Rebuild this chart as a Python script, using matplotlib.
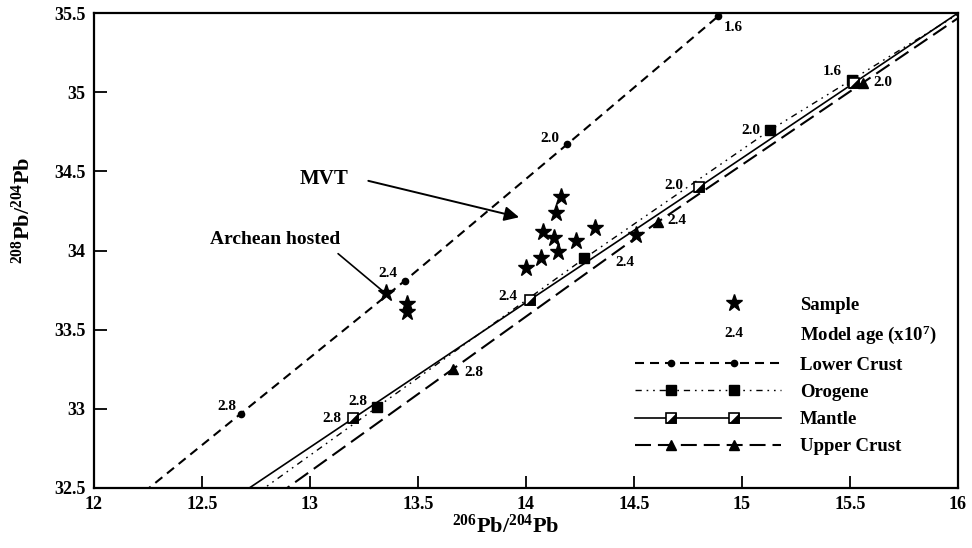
import numpy as np
import matplotlib
matplotlib.use("Agg")
import matplotlib.pyplot as plt
from matplotlib.lines import Line2D
from matplotlib.text import Text
from matplotlib.legend_handler import HandlerLine2DCompound, HandlerTuple
from matplotlib.ticker import FuncFormatter, MultipleLocator

# ---------------- data ----------------
sample_x = [14.16, 14.14, 14.08, 14.13, 14.23, 14.32, 14.15, 14.07, 14.00, 14.51, 13.35, 13.45, 13.45]
sample_y = [34.34, 34.24, 34.12, 34.08, 34.06, 34.14, 33.99, 33.95, 33.89, 34.10, 33.73, 33.66, 33.61]

ages4 = [2.8, 2.4, 2.0, 1.6]
ages3 = [2.8, 2.4, 2.0]

lower_x = [12.68, 13.44, 14.19, 14.89]
lower_y = [32.97, 33.81, 34.67, 35.48]

orogene_x = [13.31, 14.27, 15.13, 15.51]
orogene_y = [33.01, 33.95, 34.76, 35.08]

mantle_x = [13.20, 14.02, 14.80, 15.52]
mantle_y = [32.94, 33.69, 34.40, 35.06]

upper_x = [13.66, 14.61, 15.56]
upper_y = [33.25, 34.18, 35.06]

xticks = [12, 12.5, 13, 13.5, 14, 14.5, 15, 15.5, 16]
yticks = [32.5, 33, 33.5, 34, 34.5, 35, 35.5]

# ---------------- style ----------------
plt.rcParams['font.family'] = ['Liberation Serif', 'DejaVu Serif']
plt.rcParams['font.weight'] = 'bold'
plt.rcParams['mathtext.fontset'] = 'custom'
plt.rcParams['mathtext.rm'] = 'Liberation Serif:bold'
plt.rcParams['mathtext.bf'] = 'Liberation Serif:bold'
plt.rcParams['mathtext.it'] = 'Liberation Serif:bold'
plt.rcParams['mathtext.default'] = 'bf'
plt.rcParams['lines.scale_dashes'] = False

fig = plt.figure(figsize=(9.72, 5.48), dpi=100)
ax = fig.add_axes([94/972, 60/548, 864/972, 475/548])
ax.set_xlim(12, 16)
ax.set_ylim(32.5, 35.5)

ls_lower = (0, (6.5, 4.3))
ls_orog = (0, (4.5, 3.5, 1.2, 3.5, 1.2, 3.5))
ls_upper = (0, (11.5, 5.0))

tri_verts = [(-0.5, -0.5), (0.5, -0.5), (0.5, 0.5), (-0.5, -0.5)]


def extended(xs, ys):
    xs = np.asarray(xs, float)
    ys = np.asarray(ys, float)
    s0 = (ys[1] - ys[0]) / (xs[1] - xs[0])
    s1 = (ys[-1] - ys[-2]) / (xs[-1] - xs[-2])
    ex = np.concatenate([[xs[0] - 2], xs, [xs[-1] + 2]])
    ey = np.concatenate([[ys[0] - 2 * s0], ys, [ys[-1] + 2 * s1]])
    return ex, ey


# lines
for xs, ys, ls, lw in [(lower_x, lower_y, ls_lower, 1.5),
                       (orogene_x, orogene_y, ls_orog, 1.0),
                       (mantle_x, mantle_y, '-', 1.2),
                       (upper_x, upper_y, ls_upper, 1.5)]:
    ex, ey = extended(xs, ys)
    ax.plot(ex, ey, color='black', linestyle=ls, linewidth=lw, zorder=2)

# markers
ax.plot(lower_x, lower_y, 'o', color='black', ms=4.5, zorder=3)
ax.plot(orogene_x, orogene_y, 's', color='black', ms=7, zorder=3)
ax.plot(mantle_x, mantle_y, 's', mfc='white', mec='black', mew=1.2, ms=7.5, zorder=4)
ax.plot(mantle_x, mantle_y, marker=tri_verts, ls='None', mfc='black', mec='black', mew=0.3, ms=7.5, zorder=5)
ax.plot(upper_x, upper_y, '^', color='black', ms=7, zorder=3)

ax.plot(sample_x, sample_y, '*', color='black', ms=12.5, ls='None', zorder=6)

# model-age labels (offsets in points)
label_style = dict(textcoords='offset points', ha='center', va='center', fontsize=11, fontweight='bold', zorder=7)
lower_off = [(-10, 5), (-12, 5), (-12, 4), (11, -8)]
orog_off = [(-14, 4), (29, -3), (-14, 0), (-14, 6)]
mantle_off = [(-15, 0), (-16, 2), (-18, 1), None]
upper_off = [(15, -2), (14, 1), (14, 0)]
for xs, ys, ages, offs in [(lower_x, lower_y, ages4, lower_off),
                           (orogene_x, orogene_y, ages4, orog_off),
                           (mantle_x, mantle_y, ages4, mantle_off),
                           (upper_x, upper_y, ages3, upper_off)]:
    for xv, yv, a, off in zip(xs, ys, ages, offs):
        if off is None:
            continue
        ax.annotate(f"{a:.1f}", (xv, yv), xytext=off, **label_style)

# annotations
ax.text(13.065, 34.45, 'MVT', fontsize=15, fontweight='bold', ha='center', va='center')
ax.annotate('', xy=(13.968, 34.21), xytext=(13.27, 34.44),
            arrowprops=dict(arrowstyle='-|>', color='black', lw=1.4, mutation_scale=22,
                            shrinkA=0, shrinkB=0))
ax.text(12.84, 34.07, 'Archean hosted', fontsize=14, fontweight='bold', ha='center', va='center')
ax.annotate('', xy=(13.34, 33.74), xytext=(13.13, 33.98),
            arrowprops=dict(arrowstyle='-', color='black', lw=1.2, shrinkA=0, shrinkB=0))

# axes formatting
ax.xaxis.set_major_locator(MultipleLocator(0.5))
ax.yaxis.set_major_locator(MultipleLocator(0.5))
fmt = FuncFormatter(lambda v, p: f"{v:g}")
ax.xaxis.set_major_formatter(fmt)
ax.yaxis.set_major_formatter(fmt)
ax.set_xticks(xticks)
ax.set_yticks(yticks)
ax.tick_params(direction='in', length=9, width=1.3, labelsize=13, pad=6)
ax.tick_params(top=False, right=False)
for lab in ax.get_xticklabels() + ax.get_yticklabels():
    lab.set_fontweight('bold')
for sp in ax.spines.values():
    sp.set_linewidth(1.6)

ax.set_xlabel(r'$^{206}$Pb/$^{204}$Pb', fontsize=16, fontweight='bold')
ax.set_ylabel(r'$^{208}$Pb/$^{204}$Pb', fontsize=16, fontweight='bold')
ax.xaxis.set_label_coords(0.476, -0.055)
ax.yaxis.set_label_coords(-0.068, 0.585)


# ---------------- legend ----------------
class FracHandler(HandlerLine2DCompound):
    def __init__(self, fracs, **kw):
        super().__init__(**kw)
        self.fracs = fracs

    def get_xdata(self, legend, xdescent, ydescent, width, height, fontsize):
        xdata = np.array([-xdescent, -xdescent + width])
        xm = -xdescent + width * np.asarray(self.fracs)
        return xdata, xm


class AgeHandle:
    def __init__(self, text):
        self.text = text


class AgeHandler:
    def __init__(self, frac):
        self.frac = frac

    def legend_artist(self, legend, orig_handle, fontsize, handlebox):
        x = -handlebox.xdescent + handlebox.width * self.frac
        y = -handlebox.ydescent + handlebox.height / 2
        t = Text(x, y, orig_handle.text, ha='center', va='center', fontsize=11, fontweight='bold')
        handlebox.add_artist(t)
        return t


h_star = Line2D([], [], marker='*', color='black', ls='None', ms=12.5)
h_age = AgeHandle('2.4')
h_lower = Line2D([], [], color='black', ls=ls_lower, lw=1.5, marker='o', ms=4.5)
h_orog = Line2D([], [], color='black', ls=ls_orog, lw=1.0, marker='s', ms=7)
h_mant_a = Line2D([], [], color='black', ls='-', lw=1.2, marker='s', mfc='white', mec='black', mew=1.2, ms=7.5)
h_mant_b = Line2D([], [], ls='None', marker=tri_verts, mfc='black', mec='black', mew=0.3, ms=7.5)
h_upper = Line2D([], [], color='black', ls=ls_upper, lw=1.5, marker='^', ms=7)

two = [0.25, 0.68]
hmap = {
    h_star: FracHandler([0.68]),
    h_age: AgeHandler(0.68),
    h_lower: FracHandler(two),
    h_orog: FracHandler(two),
    h_mant_a: FracHandler(two),
    h_mant_b: FracHandler(two),
    tuple: HandlerTuple(ndivide=1, pad=0),
    h_upper: FracHandler(two),
}
leg = ax.legend([h_star, h_age, h_lower, h_orog, (h_mant_a, h_mant_b), h_upper],
                ['Sample', 'Model age (x10$^{7}$)', 'Lower Crust', 'Orogene', 'Mantle', 'Upper Crust'],
                handler_map=hmap, loc='upper left', bbox_to_anchor=(0.626, 0.403),
                frameon=False, borderpad=0, borderaxespad=0, handlelength=7.8,
                handletextpad=1.0, labelspacing=0.54, prop=dict(family='Liberation Serif', weight='bold', size=13.5))

fig.savefig('out.png', dpi=100)
